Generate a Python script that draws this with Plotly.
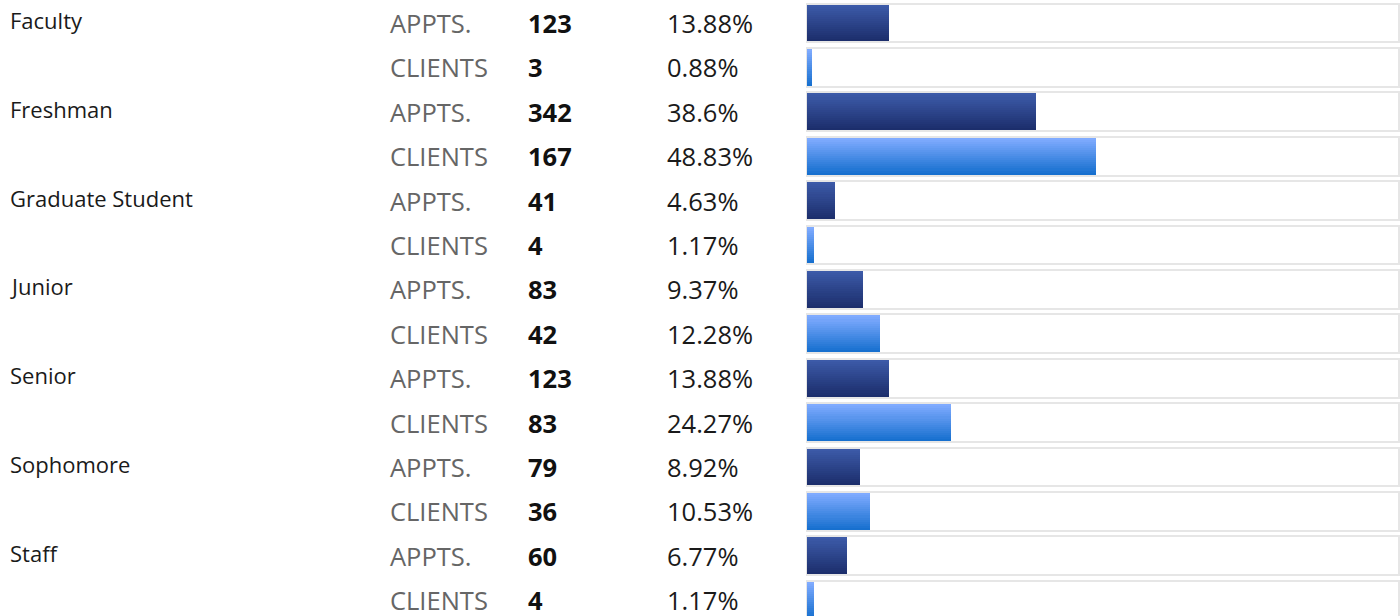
import plotly.graph_objects as go

categories = ["Faculty", "Freshman", "Graduate Student", "Junior", "Senior", "Sophomore", "Staff"]
appts = [123, 342, 41, 83, 123, 79, 60]
appts_pct = [13.88, 38.6, 4.63, 9.37, 13.88, 8.92, 6.77]
clients = [3, 167, 4, 42, 83, 36, 4]
clients_pct = [0.88, 48.83, 1.17, 12.28, 24.27, 10.53, 1.17]
row_labels = ["APPTS.", "CLIENTS"]

n = len(categories)
rows_a = [2 * i for i in range(n)]
rows_c = [2 * i + 1 for i in range(n)]
all_rows = list(range(2 * n))

def lerp(c1, c2, t):
    return "rgb(%d,%d,%d)" % tuple(round(a + (b - a) * t) for a, b in zip(c1, c2))

A_TOP, A_BOT = (0x3c, 0x5a, 0xa8), (0x1c, 0x2e, 0x6c)
C_TOP, C_BOT = (0x80, 0xab, 0xff), (0x17, 0x70, 0xcf)

fig = go.Figure()

# background boxes
fig.add_trace(go.Bar(
    x=[100] * (2 * n), y=all_rows, orientation="h", width=0.87,
    marker=dict(color="white", line=dict(color="#e6e6e6", width=2)),
    xaxis="x", yaxis="y", hoverinfo="skip", showlegend=False,
))

N = 18
H = 0.83
w = H / N
for k in range(N):
    t = k / (N - 1)
    off = -H / 2 + k * w
    fig.add_trace(go.Bar(
        x=appts_pct, y=rows_a, orientation="h", width=w * 1.02, offset=off,
        marker=dict(color=lerp(A_TOP, A_BOT, t), line=dict(width=0)),
        hoverinfo="skip", showlegend=False,
    ))
    fig.add_trace(go.Bar(
        x=clients_pct, y=rows_c, orientation="h", width=w * 1.02, offset=off,
        marker=dict(color=lerp(C_TOP, C_BOT, t), line=dict(width=0)),
        hoverinfo="skip", showlegend=False,
    ))

FONT = "Open Sans"
ann = []
for i in range(n):
    ann.append(dict(x=8 / 1400, y=rows_a[i], xref="paper", yref="y", text=categories[i],
                    showarrow=False, xanchor="left", yanchor="middle", yshift=3,
                    font=dict(family=FONT, size=22, color="#1a1a1a")))
    for r, cnt, pct, lab in ((rows_a[i], appts[i], appts_pct[i], row_labels[0]),
                             (rows_c[i], clients[i], clients_pct[i], row_labels[1])):
        ann.append(dict(x=388 / 1400, y=r, xref="paper", yref="y", text=lab,
                        showarrow=False, xanchor="left", yanchor="middle",
                        font=dict(family=FONT, size=25.5, color="#666666")))
        ann.append(dict(x=526 / 1400, y=r, xref="paper", yref="y", text="<b>%d</b>" % cnt,
                        showarrow=False, xanchor="left", yanchor="middle",
                        font=dict(family=FONT, size=25.5, color="#111111")))
        ann.append(dict(x=665 / 1400, y=r, xref="paper", yref="y", text="%g%%" % pct,
                        showarrow=False, xanchor="left", yanchor="middle",
                        font=dict(family=FONT, size=25.5, color="#1a1a1a")))

top_v = -23 / 44.4
bot_v = (616 - 23) / 44.4
fig.update_layout(
    width=1400, height=616,
    margin=dict(l=0, r=0, t=0, b=0),
    paper_bgcolor="white", plot_bgcolor="white",
    barmode="overlay", bargap=0,
    xaxis=dict(domain=[0.5757, 1.0], range=[-0.2, 100.1], visible=False, fixedrange=True),
    yaxis=dict(range=[bot_v, top_v], visible=False, fixedrange=True),
    annotations=ann,
    showlegend=False,
)
fig.write_html("out.html", config={"displayModeBar": False},
               post_script="document.body.style.margin='0';document.body.style.overflow='hidden';")
